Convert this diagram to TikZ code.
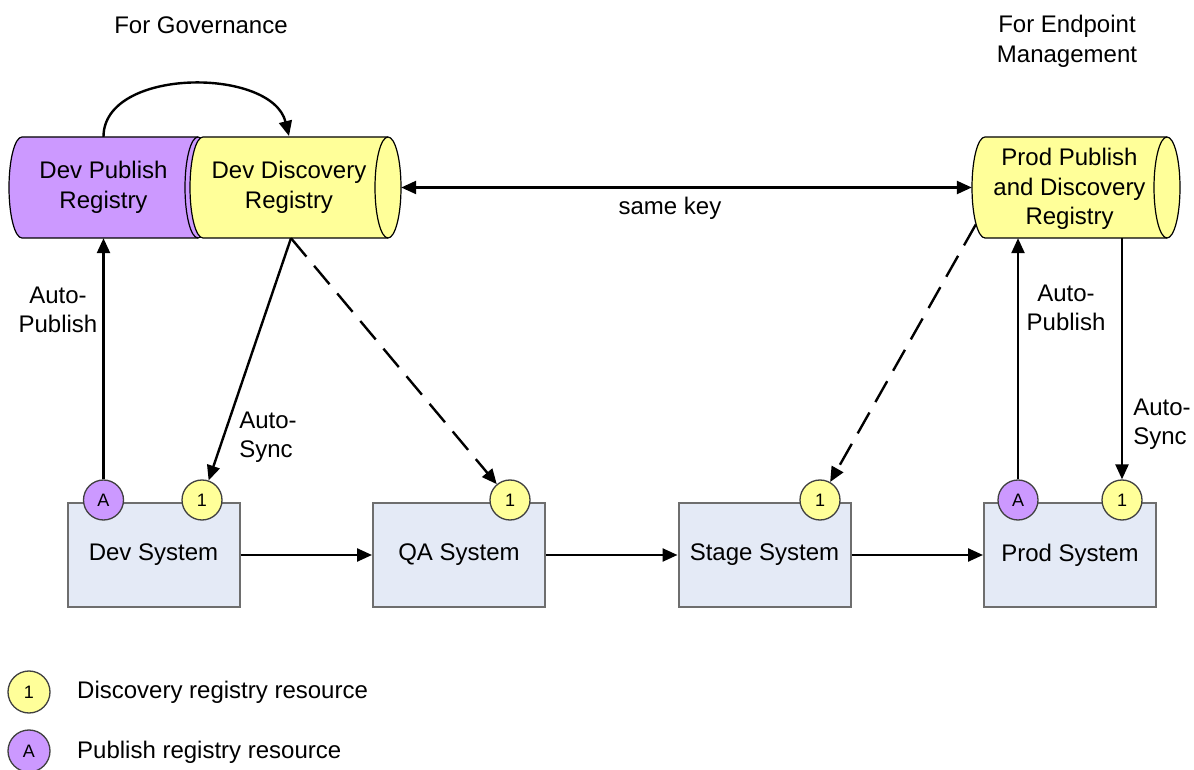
\documentclass[tikz,border=0pt]{standalone}
\usepackage{fontspec}
\setmainfont{Liberation Sans}
\usetikzlibrary{arrows.meta,calc}
\definecolor{pubpurple}{RGB}{204,153,255}
\definecolor{discyellow}{RGB}{255,255,153}
\definecolor{sysfill}{RGB}{228,234,246}
\definecolor{sysborder}{RGB}{110,110,110}
\tikzset{
  conn/.style={line width=2.4pt,-{Triangle[length=15pt,width=13pt]}},
  dconn/.style={conn,dash pattern=on 24pt off 12pt},
  cylshape/.style={draw=black,line width=1.2pt},
  cyltext/.style={draw=none,align=center,minimum height=101pt,inner sep=0pt,
     font=\fontsize{24}{29.5}\selectfont},
  sysbox/.style={draw=sysborder,fill=sysfill,line width=2pt,minimum width=172pt,
     minimum height=104pt,inner sep=0pt,font=\fontsize{24}{29}\selectfont},
  res/.style={circle,draw=black!75,line width=1.3pt,minimum size=40pt,inner sep=0pt,
     font=\fontsize{18}{20}\selectfont},
  resD/.style={res,fill=discyellow},
  resA/.style={res,fill=pubpurple},
  lbl/.style={align=center,font=\fontsize{24}{29}\selectfont,inner sep=0pt},
}
\begin{document}
\begin{tikzpicture}[x=1pt,y=1pt]
\useasboundingbox (0,0) rectangle (1194,769);
% cylinders
\def\rx{13}\def\ry{50.5}
% Dev Publish
\draw[cylshape,fill=pubpurple] (22,632) -- (198,632) arc[start angle=90,end angle=-90,x radius=\rx,y radius=\ry]
  -- (22,531) arc[start angle=270,end angle=90,x radius=\rx,y radius=\ry] -- cycle;
\draw[cylshape] (198,632) arc[start angle=90,end angle=270,x radius=\rx,y radius=\ry];
% Dev Discovery
\draw[cylshape,fill=discyellow] (203,632) -- (388,632) arc[start angle=90,end angle=-90,x radius=\rx,y radius=\ry]
  -- (203,531) arc[start angle=270,end angle=90,x radius=\rx,y radius=\ry] -- cycle;
\draw[cylshape] (388,632) arc[start angle=90,end angle=270,x radius=\rx,y radius=\ry];
% Prod
\draw[cylshape,fill=discyellow] (985,632) -- (1167,632) arc[start angle=90,end angle=-90,x radius=\rx,y radius=\ry]
  -- (985,531) arc[start angle=270,end angle=90,x radius=\rx,y radius=\ry] -- cycle;
\draw[cylshape] (1167,632) arc[start angle=90,end angle=270,x radius=\rx,y radius=\ry];

\node[cyltext,minimum width=189pt] (pub) at (103.5,581.5) {Dev Publish\\Registry};
\node[cyltext,minimum width=198pt] (disc) at (289,581.5) {Dev Discovery\\Registry};
\node[cyltext,minimum width=195pt] (prod) at (1069.5,580) {Prod Publish\\and Discovery\\Registry};

% headers
\node[lbl] (hgov) at (201,744) {For Governance};
\node[lbl,font=\fontsize{24}{30}\selectfont] (hend) at (1067,728) {For Endpoint\\Management};

% systems
\node[sysbox] (dev) at (153.5,214) {Dev System};
\node[sysbox] (qa) at (459,214) {QA System};
\node[sysbox] (stage) at (764.5,214) {Stage System};
\node[sysbox] (prodsys) at (1070,214) {Prod System};

% resources
\node[resA] (devA) at (103.5,269) {A};
\node[resD] (dev1) at (202,269) {1};
\node[resD] (qa1) at (510,269) {1};
\node[resD] (st1) at (820,269) {1};
\node[resA] (prA) at (1018,269) {A};
\node[resD] (pr1) at (1122,269) {1};

% connectors
\draw[conn] (pub.north) .. controls (103.5,702) and (272,702) .. (289,633);
\draw[conn,{Triangle[length=15pt,width=13pt]}-{Triangle[length=15pt,width=13pt]}] ([xshift=13pt]disc.east) -- (prod.west |- disc.east);
\node[lbl] (samekey) at (670,561) {same key};
\draw[conn] (devA.north) -- (pub.south);
\coordinate (discb) at ([xshift=2pt]disc.south);
\draw[conn] (discb) -- (dev1);
\draw[dconn] (discb) -- (qa1);
\draw[dconn] ([shift={(4,-37)}]prod.west |- disc.east) -- (st1);
\draw[conn] (prA.north) -- (prA.north |- disc.south);
\draw[conn] (disc.south -| pr1.north) -- (pr1.north);
\draw[conn] (dev.east) -- (qa.west);
\draw[conn] (qa.east) -- (stage.west);
\draw[conn] (stage.east) -- (prodsys.west);

% labels
\node[lbl] (ap1) at (58,459) {Auto-\\Publish};
\node[lbl,align=left] (as1) at (268,332) {Auto-\\Sync};
\node[lbl] (ap2) at (1066,461) {Auto-\\Publish};
\node[lbl,align=left] (as2) at (1162,345) {Auto-\\Sync};

% legend
\node[resD,minimum size=42pt] (leg1) at (29,77) {1};
\node[resA,minimum size=42pt] (legA) at (29,18) {A};
\node[lbl,anchor=west] (legt1) at (77,77) {Discovery registry resource};
\node[lbl,anchor=west] (legtA) at (77,17) {Publish registry resource};
\end{tikzpicture}
\end{document}
